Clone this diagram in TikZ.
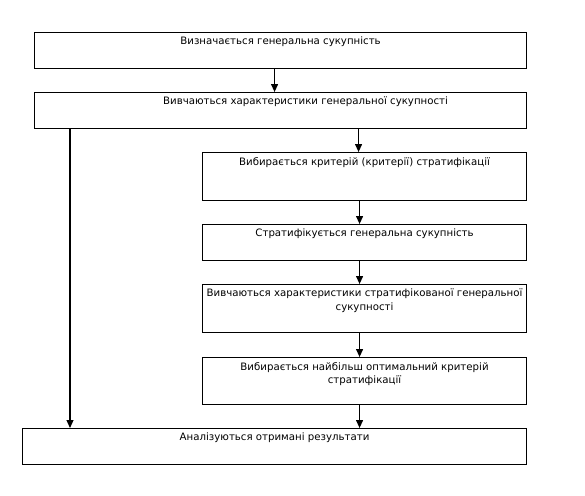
\documentclass[tikz,border=0pt]{standalone}
\usepackage{fontspec}
\setmainfont{DejaVu Sans}
\usetikzlibrary{arrows.meta}
\tikzset{
  box/.style={draw, line width=1.1pt, inner sep=0pt, anchor=north west},
  txt/.style={anchor=north, inner sep=0pt, align=center, font=\fontsize{10.2}{13.5}\selectfont},
  arr/.style={-{Triangle[length=8pt,width=7pt]}, line width=1.1pt}
}
\begin{document}
\begin{tikzpicture}[x=1pt,y=-1pt]
\useasboundingbox (0,0) rectangle (585,495);
\node[box, minimum width=492pt, minimum height=36pt] (b1) at (34,32) {};
\node[box, minimum width=492pt, minimum height=36pt] (b2) at (34,92) {};
\node[box, minimum width=324pt, minimum height=48pt] (b3) at (202,152) {};
\node[box, minimum width=324pt, minimum height=36pt] (b4) at (202,224) {};
\node[box, minimum width=324pt, minimum height=48pt] (b5) at (202,284) {};
\node[box, minimum width=324pt, minimum height=47pt] (b6) at (202,357) {};
\node[box, minimum width=504pt, minimum height=36pt] (b7) at (22,428) {};

\node[txt] (t1) at ([yshift=-5pt]b1.north) {Визначається генеральна сукупність};
\node[txt] (t2) at ([xshift=25pt,yshift=-5pt]b2.north) {Вивчаються характеристики генеральної сукупності};
\node[txt] (t3) at ([yshift=-5pt]b3.north) {Вибирається критерій (критерії) стратифікації};
\node[txt] (t4) at ([yshift=-5pt]b4.north) {Стратифікується генеральна сукупність};
\node[txt] (t5) at ([yshift=-5pt]b5.north) {Вивчаються характеристики стратифікованої генеральної\\сукупності};
\node[txt] (t6) at ([yshift=-5pt]b6.north) {Вибирається найбільш оптимальний критерій\\стратифікації};
\node[txt] (t7) at ([yshift=-5pt]b7.north) {Аналізуються отримані результати};

\draw[arr] ([xshift=-6pt]b1.south) -- ([xshift=-6pt]b1.south |- b2.north);
\draw[arr] ([xshift=-6pt]b3.north |- b2.south) -- ([xshift=-6pt]b3.north);
\draw[arr] ([xshift=-5pt]b3.south) -- ([xshift=-5pt]b4.north);
\draw[arr] ([xshift=-5pt]b4.south) -- ([xshift=-5pt]b5.north);
\draw[arr] ([xshift=-5pt]b5.south) -- ([xshift=-5pt]b6.north);
\draw[arr] ([xshift=-5pt]b6.south) -- ([xshift=-5pt]b6.south |- b7.north);
\draw[arr] ([xshift=48pt]b7.north west |- b2.south) -- ([xshift=48pt]b7.north west);
\end{tikzpicture}
\end{document}
